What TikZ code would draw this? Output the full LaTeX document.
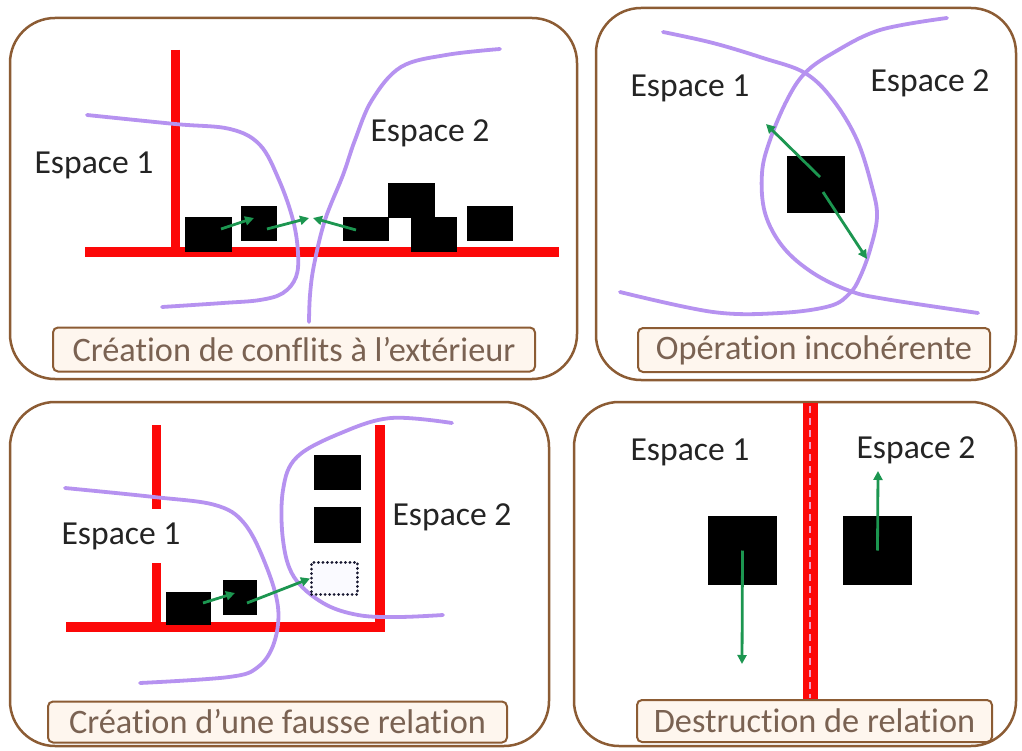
\documentclass[tikz,border=0pt]{standalone}
\usepackage{fontspec}
\setmainfont{Carlito}[Ligatures=NoCommon]
\usetikzlibrary{arrows.meta}
\definecolor{panelbrown}{RGB}{140,92,52}
\definecolor{labelfill}{RGB}{254,246,238}
\definecolor{labeltext}{RGB}{122,98,82}
\definecolor{wallred}{RGB}{252,8,8}
\definecolor{curvepurple}{RGB}{182,146,240}
\definecolor{arrowgreen}{RGB}{28,150,80}
\definecolor{textgray}{RGB}{36,36,36}
\definecolor{dashpink}{RGB}{236,160,200}
\definecolor{dotnavy}{RGB}{25,25,50}
\definecolor{ghostfill}{RGB}{250,250,255}
\begin{document}
\begin{tikzpicture}[x=1pt,y=-1pt,
  panel/.style={draw=panelbrown,line width=2.5pt,rounded corners=45pt},
  caption/.style={draw=panelbrown,line width=2pt,fill=labelfill,rounded corners=5pt,
    text=labeltext,font=\fontsize{34.3}{38}\selectfont,inner sep=0pt},
  spacelbl/.style={text=textgray,font=\fontsize{33.6}{38}\selectfont,inner sep=0pt},
  blk/.style={fill=black,draw=none,inner sep=0pt},
  ghost/.style={fill=ghostfill,draw=dotnavy,line width=3pt,line cap=round,dash pattern=on 0.1pt off 4.4pt,inner sep=0pt},
  wall/.style={draw=wallred,line width=9pt},
  border/.style={draw=curvepurple,line width=3.8pt,line cap=round},
  garrow/.style={draw=arrowgreen,line width=2.8pt,-{Triangle[length=9pt,width=9pt]}}
]
\useasboundingbox (0,0) rectangle (1022,751);
\fill[white] (0,0) rectangle (1022,751);

% ---------- panels ----------
\draw[panel] (10,18) rectangle (577,379);
\draw[panel] (596,8) rectangle (1016,380);
\draw[panel] (10,402) rectangle (549,746);
\draw[panel] (574,402) rectangle (1016,746);

% ========== top-left panel ==========
\draw[wall] (175,50) -- (175,252);
\draw[wall,line width=10pt] (85,252) -- (559,252);
\node[blk,minimum width=47,minimum height=35] (tlA) at (208.5,234.5) {};
\node[blk,minimum width=36,minimum height=35] (tlB) at (259,223.5) {};
\node[blk,minimum width=46,minimum height=24] (tlC) at (366,229) {};
\node[blk,minimum width=47,minimum height=35] (tlD) at (411.5,200.5) {};
\node[blk,minimum width=46,minimum height=35] (tlE) at (434,234.5) {};
\node[blk,minimum width=46,minimum height=35] (tlF) at (490,223.5) {};
\draw[border] plot[smooth,tension=0.6] coordinates {(87,115) (175,124) (230,129) (260,145) (279,180) (293,220) (298,253) (296,277) (283,293) (260,300) (223,303) (162,307)};
\draw[border] plot[smooth,tension=0.6] coordinates {(500,49) (446,55) (401,67) (372,100) (355,140) (343,175) (325,220) (314,265) (310,295) (309,322)};
\coordinate (tl1s) at (221,229); \coordinate (tl1e) at (254,218);
\coordinate (tl2s) at (267,229); \coordinate (tl2e) at (309,218);
\coordinate (tl3s) at (356,230); \coordinate (tl3e) at (313,218);
\draw[garrow] (tl1s) -- (tl1e);
\draw[garrow] (tl2s) -- (tl2e);
\draw[garrow] (tl3s) -- (tl3e);
\node[spacelbl] (tlE1) at (94,165) {Espace 1};
\node[spacelbl] (tlE2) at (430,133) {Espace 2};
\node[caption,minimum width=482,minimum height=44] (tlcap) at (294,349.5) {Création de conflits à l’extérieur};

% ========== top-right panel ==========
\draw[border] plot[smooth,tension=0.6] coordinates {(663,32) (713,43) (763,58) (805,73) (833,100) (857,140) (872,187) (877,217) (870,250) (860,277) (850,293) (830,306) (780,313) (713,312) (620,292)};
\draw[border] plot[smooth,tension=0.6] coordinates {(947,18) (880,30) (833,53) (805,73) (787,100) (770,140) (762,173) (765,213) (783,247) (813,273) (850,291) (885,299) (978,313)};
\node[blk,minimum width=58,minimum height=57] (trS) at (816,184.5) {};
\coordinate (tr1s) at (820,177); \coordinate (tr1e) at (766,124);
\coordinate (tr2s) at (823,192); \coordinate (tr2e) at (867,259);
\draw[garrow] (tr1s) -- (tr1e);
\draw[garrow] (tr2s) -- (tr2e);
\node[spacelbl] (trE1) at (690,88) {Espace 1};
\node[spacelbl] (trE2) at (930,83) {Espace 2};
\node[caption,minimum width=352,minimum height=44] (trcap) at (814,350) {Opération incohérente};

% ========== bottom-left panel ==========
\draw[wall] (156,425) -- (156,627);
\draw[wall,line width=10pt] (66,627) -- (380,627) -- (380,425);
\draw[border] plot[smooth,tension=0.6] coordinates {(65,488) (154,497) (215,505) (244,523) (265,563) (278,607) (274,643) (258,667) (229,677) (140,683)};
\draw[border] plot[smooth,tension=0.6] coordinates {(452,423) (391,418) (341,433) (297,457) (283,490) (283,540) (294,577) (323,603) (358,615) (398,617) (443,615)};
\node[blk,minimum width=45,minimum height=33] (blA) at (188.5,608.5) {};
\node[blk,minimum width=34,minimum height=35] (blB) at (240,597.5) {};
\node[blk,minimum width=47,minimum height=35] (blC) at (337.5,472.5) {};
\node[blk,minimum width=47,minimum height=36] (blD) at (337.5,525) {};
\node[ghost,minimum width=46,minimum height=32] (blG) at (334.5,578.5) {};
\coordinate (bl1s) at (203,603); \coordinate (bl1e) at (235,593);
\coordinate (bl2s) at (247,603);
\draw[garrow] (bl1s) -- (bl1e);
\draw[garrow] (bl2s) -- (blG.west);
\node[spacelbl,fill=white,minimum width=147,minimum height=54] (blE1) at (121,536) {Espace 1};
\node[spacelbl] (blE2) at (452,517) {Espace 2};
\node[caption,minimum width=459,minimum height=41] (blcap) at (277.5,722) {Création d’une fausse relation};

% ========== bottom-right panel ==========
\draw[draw=wallred,line width=15pt] (810,403) -- (810,700);
\draw[draw=dashpink,line width=2.5pt,dash pattern=on 7pt off 5pt] (810,406) -- (810,698);
\node[blk,minimum width=69,minimum height=69] (brS1) at (742.5,550.5) {};
\node[blk,minimum width=69,minimum height=69] (brS2) at (877.5,550.5) {};
\coordinate (br1e) at (742,664);
\coordinate (br2e) at (878,471);
\draw[garrow] (brS1.center) -- (br1e);
\draw[garrow] (brS2.center) -- (br2e);
\node[spacelbl] (brE1) at (690,452) {Espace 1};
\node[spacelbl] (brE2) at (916,450) {Espace 2};
\node[caption,minimum width=355,minimum height=42] (brcap) at (814.5,721) {Destruction de relation};
\end{tikzpicture}
\end{document}
